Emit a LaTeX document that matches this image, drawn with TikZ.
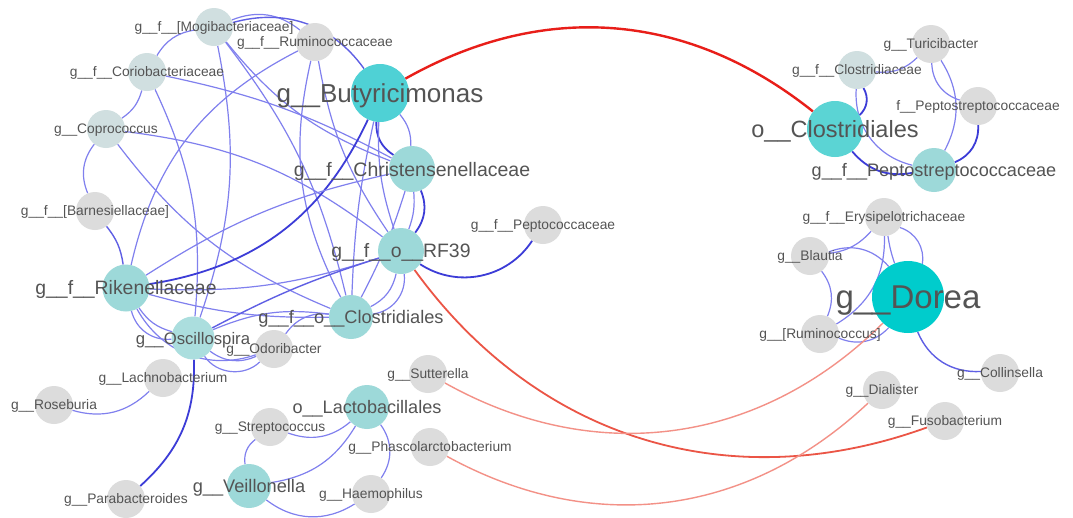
\documentclass[tikz,border=0pt]{standalone}
\usepackage{fontspec}
\setmainfont{Liberation Sans}
\pgfdeclarelayer{bglayer}
\pgfdeclarelayer{edgelayer}
\pgfsetlayers{bglayer,edgelayer,main}
\definecolor{labc}{HTML}{545454}
\definecolor{greyc}{HTML}{DCDCDC}
\definecolor{bgreyc}{HTML}{D0DFE0}
\definecolor{ltealc}{HTML}{9DD9D9}
\definecolor{oscc}{HTML}{ABDEDE}
\definecolor{tealone}{HTML}{4FD1D5}
\definecolor{tealtwo}{HTML}{5BD4D4}
\definecolor{doreac}{HTML}{00CCCC}
\definecolor{edgelight}{RGB}{128,128,238}
\definecolor{edgemid}{RGB}{95,95,228}
\definecolor{edgedark}{RGB}{60,60,215}
\definecolor{redb}{RGB}{232,30,25}
\definecolor{redm}{RGB}{235,85,70}
\definecolor{redl}{RGB}{243,145,135}
\tikzset{
  gn/.style={circle, inner sep=0pt, minimum size=38pt, fill=greyc},
  bn/.style={circle, inner sep=0pt, minimum size=38pt, fill=bgreyc},
  tn/.style={circle, inner sep=0pt, minimum size=#1, fill=ltealc},
  lab/.style={text=labc, inner sep=0pt, anchor=base, font=\fontsize{#1}{#1}\selectfont, yshift=-0.36*#1pt},
  lab/.default=13.8,
  eb/.style={draw=edgelight, line width=1.2pt},
  em/.style={draw=edgemid, line width=1.4pt},
  ed/.style={draw=edgedark, line width=1.8pt},
  rb/.style={draw=redb, line width=2.4pt},
  rm/.style={draw=redm, line width=1.8pt},
  rl/.style={draw=redl, line width=1.4pt}
}
\begin{document}
\begin{tikzpicture}[x=1pt,y=1pt]
\begin{pgfonlayer}{bglayer}
\fill[white] (0,0) rectangle (1073,-517);
\end{pgfonlayer}
\useasboundingbox (0,0) rectangle (1073,-517);
% ---- circles, left part
\node[bn] (mogi) at (214,-27) {};
\node[gn] (rumi) at (315,-42) {};
\node[bn] (corio) at (147,-72) {};
\node[bn] (copro) at (106,-129) {};
\node[gn] (barn) at (95,-211) {};
\node[tn=58pt, fill=tealone] (buty) at (380,-93) {};
\node[tn=46pt] (chris) at (412,-169) {};
\node[tn=46pt] (rf) at (401,-251) {};
\node[gn] (pepto) at (543,-225) {};
\node[tn=47pt] (rik) at (126,-288) {};
\node[tn=44pt] (clos) at (351,-317) {};
\node[tn=43pt, fill=oscc] (osc) at (193,-338) {};
\node[gn] (odor) at (274,-349) {};
\node[gn] (lach) at (163,-378) {};
\node[gn] (rose) at (54,-405) {};
\node[gn] (parab) at (126,-499) {};
\node[gn] (sutt) at (428,-374) {};
\node[tn=44pt] (lacto) at (367,-407) {};
\node[gn] (strep) at (270,-427) {};
\node[gn] (phasc) at (430,-447) {};
\node[tn=44pt] (veil) at (249,-486) {};
\node[gn] (haem) at (371,-494) {};
% ---- circles, right part
\node[tn=56pt, fill=tealtwo] (oclos) at (835,-129) {};
\node[bn] (clcae) at (857,-70) {};
\node[gn] (turi) at (931,-44) {};
\node[gn] (fpep) at (978,-106) {};
\node[tn=44pt] (gfpep) at (934,-170) {};
\node[gn] (erys) at (884,-217) {};
\node[gn] (blau) at (810,-256) {};
\node[tn=72pt, fill=doreac] (dorea) at (908,-297) {};
\node[gn] (rumb) at (820,-334) {};
\node[gn] (coll) at (1000,-373) {};
\node[gn] (dial) at (882,-390) {};
\node[gn] (fuso) at (945,-421) {};
% ---- edges
\begin{pgfonlayer}{edgelayer}
\draw[eb] (mogi) to[bend right=25] (corio);
\draw[eb] (mogi) to[bend left=30] (rumi);
\draw[em] (mogi) to[bend left=35] (buty);
\draw[eb] (mogi) to[bend left=15] (osc);
\draw[eb] (mogi) to[bend left=12] (clos);
\draw[eb] (mogi) to[bend right=15] (chris);
\draw[eb] (rumi) to[bend right=25] (rik);
\draw[eb] (rumi) to[bend right=20] (clos);
\draw[eb] (rumi) to[bend right=12] (rf);
\draw[eb] (corio) to[bend left=20] (copro);
\draw[eb] (corio) to[bend left=8] (chris);
\draw[eb] (corio) to[bend left=15] (osc);
\draw[eb] (copro) to[bend right=30] (barn);
\draw[eb] (copro) to[bend right=15] (clos);
\draw[eb] (copro) to[bend left=15] (rf);
\draw[em] (barn) to[bend left=15] (rik);
\draw[ed] (buty) to[bend right=30] (chris);
\draw[eb] (buty) to[bend left=20] (chris);
\draw[eb] (buty) to[bend right=10] (rf);
\draw[ed] (buty) to[bend left=28] (rik);
\draw[eb] (buty) to[bend right=5] (clos);
\draw[ed] (chris) to[bend left=30] (rf);
\draw[eb] (chris) to[bend left=12] (rf);
\draw[eb] (chris) to[bend left=5] (clos);
\draw[eb] (rik) to[bend left=10] (chris);
\draw[eb] (rik) to[bend right=10] (rf);
\draw[eb] (rik) to[bend right=8] (clos);
\draw[ed] (rf) to[bend right=45] (pepto);
\draw[eb] (rf) to[bend left=25] (clos);
\draw[eb] (rf) to[bend left=45] (clos);
\draw[em] (osc) to[bend left=5] (rf);
\draw[eb] (rik) to[bend right=20] (osc);
\draw[eb] (rik) to[bend right=40] (osc);
\draw[eb] (rik) to[bend right=40] (odor);
\draw[eb] (osc) to[bend right=30] (odor);
\draw[eb] (osc) to[bend right=50] (odor);
\draw[eb] (osc) to[bend left=15] (clos);
\draw[eb] (odor) to[bend left=30] (clos);
\draw[ed] (osc) to[bend left=25] (parab);
\draw[eb] (lach) to[bend left=30] (rose);
% lower cluster
\draw[eb] (lacto) to[bend left=30] (strep);
\draw[eb] (lacto) to[bend left=25] (veil);
\draw[eb] (lacto) to[bend left=35] (haem);
\draw[eb] (strep) to[bend right=30] (veil);
\draw[eb] (veil) to[bend right=35] (haem);
% right top cluster
\draw[ed] (oclos) to[bend right=40] (clcae);
\draw[eb] (clcae) to[bend right=40] (gfpep);
\draw[ed] (oclos) to[bend right=30] (gfpep);
\draw[eb] (clcae) to[bend right=25] (turi);
\draw[eb] (turi) to[bend right=35] (fpep);
\draw[eb] (turi) to[bend left=30] (gfpep);
\draw[ed] (fpep) to[bend left=35] (gfpep);
% Dorea cluster
\draw[eb] (erys) to[bend left=20] (blau);
\draw[eb] (blau) to[bend left=35] (dorea);
\draw[eb] (erys) to[bend right=5] (dorea);
\draw[eb] (erys) to[bend left=40] (dorea);
\draw[eb] (rumb) to[bend right=30] (erys);
\draw[eb] (blau) to[bend left=30] (rumb);
\draw[eb] (rumb) to[bend right=35] (dorea);
\draw[em] (dorea) to[bend right=35] (coll);
% red links
\draw[rb] (buty) to[bend left=34] (oclos);
\draw[rm] (rf) to[bend right=37] (fuso);
\draw[rl] (sutt) to[bend right=37] (dorea);
\draw[rl] (phasc) to[bend right=36] (dial);
\end{pgfonlayer}
% ---- labels
\node[lab] (mogiL) at (mogi) {g\_\_f\_\_[Mogibacteriaceae]};
\node[lab] (rumiL) at (rumi) {g\_\_f\_\_Ruminococcaceae};
\node[lab] (corioL) at (corio) {g\_\_f\_\_Coriobacteriaceae};
\node[lab] (coproL) at (copro) {g\_\_Coprococcus};
\node[lab] (barnL) at (barn) {g\_\_f\_\_[Barnesiellaceae]};
\node[lab=26] (butyL) at (buty) {g\_\_Butyricimonas};
\node[lab=19.5] (chrisL) at (chris) {g\_\_f\_\_Christensenellaceae};
\node[lab=19.4] (rfL) at (rf) {g\_\_f\_\_o\_\_RF39};
\node[lab] (peptoL) at (pepto) {g\_\_f\_\_Peptococcaceae};
\node[lab=19.4] (rikL) at (rik) {g\_\_f\_\_Rikenellaceae};
\node[lab=18.2] (closL) at (clos) {g\_\_f\_\_o\_\_Clostridiales};
\node[lab=16.7] (oscL) at (osc) {g\_\_Oscillospira};
\node[lab] (odorL) at (odor) {g\_\_Odoribacter};
\node[lab] (lachL) at (lach) {g\_\_Lachnobacterium};
\node[lab] (roseL) at (rose) {g\_\_Roseburia};
\node[lab] (parabL) at (parab) {g\_\_Parabacteroides};
\node[lab] (suttL) at (sutt) {g\_\_Sutterella};
\node[lab=18.1] (lactoL) at (lacto) {o\_\_Lactobacillales};
\node[lab] (strepL) at (strep) {g\_\_Streptococcus};
\node[lab] (phascL) at (phasc) {g\_\_Phascolarctobacterium};
\node[lab=18.2] (veilL) at (veil) {g\_\_Veillonella};
\node[lab] (haemL) at (haem) {g\_\_Haemophilus};
\node[lab=23.5] (oclosL) at (oclos) {o\_\_Clostridiales};
\node[lab] (clcaeL) at (clcae) {g\_\_f\_\_Clostridiaceae};
\node[lab] (turiL) at (turi) {g\_\_Turicibacter};
\node[lab] (fpepL) at (fpep) {f\_\_Peptostreptococcaceae};
\node[lab=18.1] (gfpepL) at (gfpep) {g\_\_f\_\_Peptostreptococcaceae};
\node[lab] (erysL) at (erys) {g\_\_f\_\_Erysipelotrichaceae};
\node[lab] (blauL) at (blau) {g\_\_Blautia};
\node[lab=33] (doreaL) at (dorea) {g\_\_Dorea};
\node[lab] (rumbL) at (rumb) {g\_\_[Ruminococcus]};
\node[lab] (collL) at (coll) {g\_\_Collinsella};
\node[lab] (dialL) at (dial) {g\_\_Dialister};
\node[lab] (fusoL) at (fuso) {g\_\_Fusobacterium};
\end{tikzpicture}
\end{document}
